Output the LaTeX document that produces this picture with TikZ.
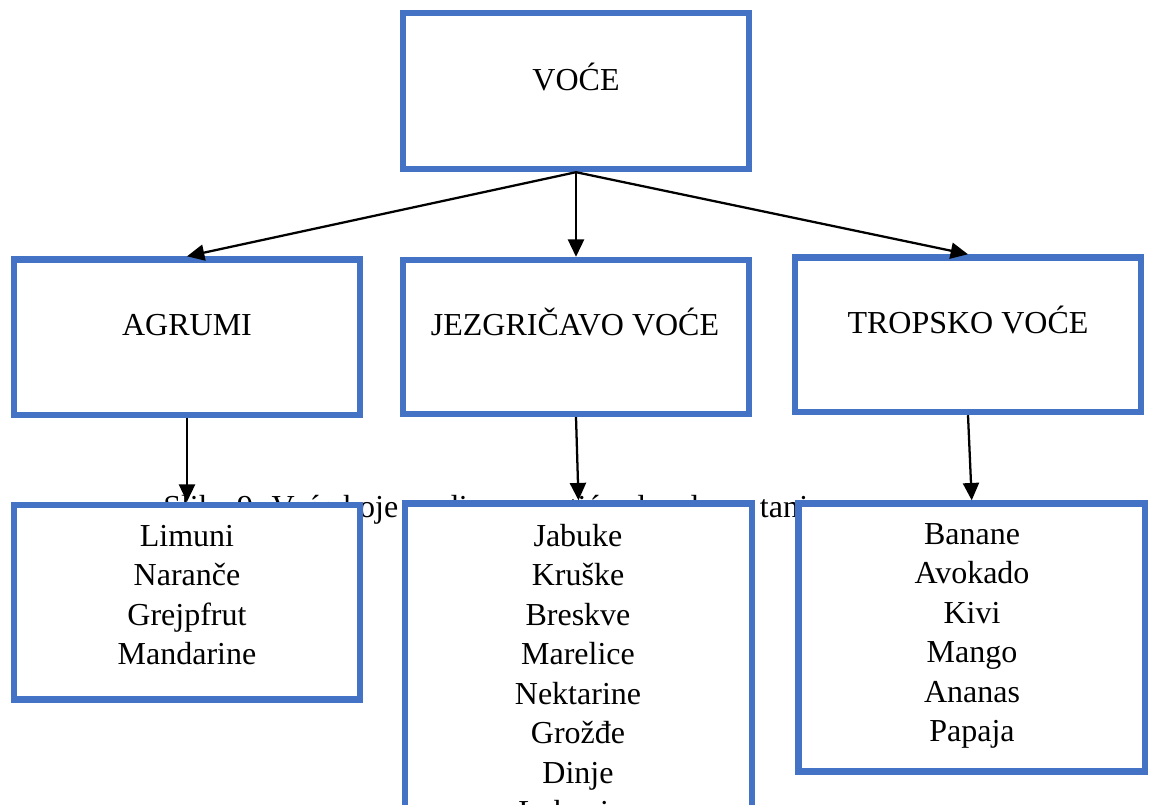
\documentclass[tikz,border=0pt]{standalone}
\usepackage{fontspec}
\setmainfont{Liberation Serif}
\usetikzlibrary{arrows.meta}
\definecolor{boxblue}{HTML}{4472C4}
\begin{document}
\begin{tikzpicture}[x=0.75pt,y=-0.75pt,
  box/.style={draw=boxblue, line width=4.8pt, fill=white, rectangle, inner sep=0pt},
  lbl/.style={font=\fontsize{24pt}{29.6pt}\selectfont, inner sep=0pt},
  conn/.style={line width=1.7pt, -{Triangle[length=13pt,width=12pt]}}]
\useasboundingbox (0,0) rectangle (1149,805);
\clip (0,0) rectangle (1149,805);
% caption lying behind the boxes
\node[lbl, anchor=base west] (cap) at (163,517) {Slika 9. Voće koje su djeca u vrtiću slagala na tanjur};
% boxes
\node[box, minimum width=259.5pt, minimum height=117pt] (voce) at (576,91) {};
\node[box, minimum width=259.5pt, minimum height=116.6pt] (agr) at (187,337.25) {};
\node[box, minimum width=259.5pt, minimum height=115.5pt] (jez) at (576,337) {};
\node[box, minimum width=259.5pt, minimum height=115.9pt] (trop) at (968,334.75) {};
\node[box, minimum width=259.5pt, minimum height=145.9pt] (l1) at (187,602.25) {};
\node[box, minimum width=260.25pt, minimum height=297.4pt] (l2) at (578.5,701.75) {};
\node[box, minimum width=259.9pt, minimum height=201pt] (l3) at (971.75,637.5) {};
% texts
\node[lbl, anchor=base] (tvoce) at (576,91) {VOĆE};
\node[lbl, anchor=base] (tagr) at (187,336) {AGRUMI};
\node[lbl, anchor=base] (tjez) at (575,336) {JEZGRIČAVO VOĆE};
\node[lbl, anchor=base] (ttrop) at (968,334) {TROPSKO VOĆE};
\node[lbl, align=center, anchor=north] (tl1) at (187,525) {Limuni\\Naranče\\Grejpfrut\\Mandarine};
\node[lbl, align=center, anchor=north] (tl2) at (578,524) {Jabuke\\Kruške\\Breskve\\Marelice\\Nektarine\\Grožđe\\Dinje\\Lubenice};
\node[lbl, align=center, anchor=north] (tl3) at (972,523) {Banane\\Avokado\\Kivi\\Mango\\Ananas\\Papaja};
% connectors
\draw[conn] (voce.south) -- (agr.north);
\draw[conn] (voce.south) -- (jez.north);
\draw[conn] (voce.south) -- (trop.north);
\draw[conn] (agr.south) -- (l1.north);
\draw[conn] (jez.south) -- (l2.north);
\draw[conn] (trop.south) -- (l3.north);
\end{tikzpicture}
\end{document}
